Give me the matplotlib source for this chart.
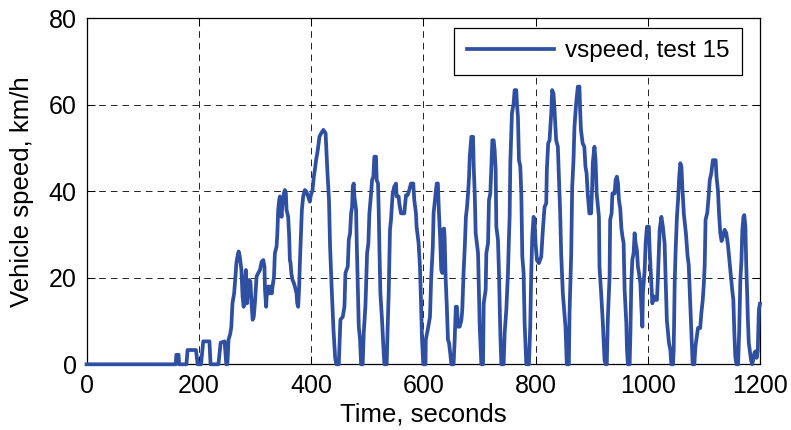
import matplotlib
matplotlib.use("Agg")
import matplotlib.pyplot as plt

# data (time in s, speed in km/h)
time_s = [
    0, 159, 160, 164, 165, 178, 180, 195, 198, 204, 208, 219, 221, 235, 239, 246, 249, 251,
    253, 256, 258, 260, 263, 265, 267, 269, 271, 273, 276, 278, 280, 282, 284, 286, 288, 290,
    292, 294, 296, 298, 300, 303, 306, 309, 312, 315, 317, 318, 320, 321, 324, 325.5, 328, 330,
    331.5, 334, 335.6, 338.6, 340, 341.5, 343.3, 344.5, 346, 347.5, 349.3, 351.6, 353.4, 355.2,
    356.4, 359.3, 361.1, 362.3, 363.5, 365, 367, 369.4, 371.2, 374.2, 375.4, 377.1, 378.9, 380.1,
    381.9, 383.7, 386, 389, 392, 394.9, 397.9, 399.7, 402.7, 405, 406.8, 409, 412, 415, 418, 422,
    426, 429, 432, 434, 437, 440, 443, 445, 449.5, 450.7, 452.4, 456.6, 459.6, 461.3, 465.5,
    467.3, 469.6, 471.4, 473.2, 474.4, 476.1, 477.3, 480.3, 481.5, 483.3, 485.1, 487.4, 489.2,
    492.1, 493.9, 496.9, 498.1, 499.9, 502.2, 504, 507, 508.8, 511.1, 512.9, 515.8, 517, 519.4,
    520.6, 521.8, 523.6, 526.5, 528.9, 530.7, 534.8, 536.6, 538.4, 540.7, 542.5, 545.5, 548.4,
    551.4, 552.6, 556.1, 557.3, 560.3, 566.2, 569.2, 572.1, 575.1, 578.1, 582.2, 584, 587, 588.1,
    591.7, 594.1, 595.9, 597.7, 600, 604, 604.5, 608, 612, 614, 617, 618.4, 622, 624, 626, 628,
    630, 632, 634, 635, 637, 638, 640, 642, 644, 646, 648, 650, 654, 656, 658, 660, 662, 665,
    668, 669.5, 672, 674, 676, 678, 679.8, 681.6, 682.8, 685.7, 688.7, 689.9, 691.7, 693.4,
    697.6, 700.6, 703.5, 706.5, 707.7, 711.2, 712.4, 715.4, 717.1, 719.5, 721.3, 723.1, 725.4,
    727.2, 729, 730.2, 733.1, 734.9, 737.3, 739.1, 743.2, 745, 748, 750.9, 752.7, 753.9, 755.1,
    758, 761, 762.8, 765.7, 766.9, 768.7, 770.5, 772.9, 774.7, 776.5, 778.8, 780.6, 783.6, 788.3,
    790.6, 792.4, 794.2, 796.6, 798.3, 800.1, 802.5, 806, 810.2, 813.1, 816.1, 819.1, 820.2,
    822.6, 825, 828, 829.7, 832.1, 833.9, 836.8, 839.8, 842.8, 844, 845.7, 848.7, 853.4, 855.8,
    859.4, 860.6, 863.5, 865.4, 867.7, 869.4, 872.4, 875.4, 878.3, 879.5, 881, 884, 887, 889,
    891, 893, 896, 899, 901, 902, 905, 907, 909, 913, 914, 917, 920, 923, 925, 927, 929, 932,
    933, 935.6, 937, 941, 942.7, 945, 947, 948.6, 951, 953, 955, 957, 958.8, 961.8, 963, 964.7,
    967.7, 969, 970.7, 972.5, 974.8, 976.6, 978.4, 980.7, 982.5, 984.3, 986.8, 988.6, 990.4,
    991.4, 994.5, 996.2, 998.6, 1002, 1003.4, 1006.4, 1008.2, 1010.5, 1014, 1016.4, 1018.2,
    1021.2, 1024.3, 1027, 1030, 1032, 1034, 1037.8, 1040.3, 1042, 1045, 1046.2, 1048, 1049.7,
    1052, 1054, 1055.7, 1058, 1060, 1062, 1064.5, 1068, 1071, 1073, 1075.5, 1077.5, 1080, 1083,
    1085, 1087.5, 1089.5, 1093.5, 1095.5, 1098, 1100, 1101.5, 1103, 1106, 1108, 1110.5, 1113.3,
    1116, 1121, 1122.5, 1125, 1127, 1129.3, 1131.5, 1134, 1137, 1140, 1143, 1146, 1148.5,
    1150.5, 1152.5, 1154.3, 1156, 1158, 1161, 1163, 1165, 1167, 1168.5, 1170.5, 1172, 1174,
    1175.5, 1177, 1178.5, 1180, 1182, 1184, 1186, 1188, 1190, 1192, 1194, 1196, 1198, 1200,
]
speed_kmh = [
    0, 0, 2.2, 2.2, 0, 0, 3.3, 3.3, 0, 0, 5.3, 5.3, 0, 0, 5.0, 5.3, 0, 0,
    5.7, 7.0, 8.7, 14.1, 16.4, 19.7, 23.4, 25.0, 26.1, 25.0, 21.8, 15.7, 13.3, 18.0, 21.8, 14.1, 18.0, 19.5,
    19.1, 14.1, 10.3, 11.0, 14.1, 20.3, 21.1, 21.8, 23.7, 24.1, 22.6, 17.2, 13.3, 15.7, 18.0, 16.4, 18.0, 16.4,
    18.0, 20.3, 25.7, 27.2, 30.3, 35.7, 38.0, 38.8, 36.0, 34.1, 37.2, 39.5, 40.3, 39.5,
    35.7, 34.1, 29.5, 24.1, 23.4, 21.0, 19.5, 18.8, 18.0, 16.4, 14.1, 13.3, 18.0, 23.4,
    29.5, 35.7, 38.8, 40.3, 39.9, 38.8, 37.6, 39.1, 40.3, 43.4, 44.9, 47.2, 49.5, 52.6, 53.4, 54.2,
    53.4, 45.0, 38.0, 27.0, 17.0, 8.0, 1.5, 0, 0, 4.1, 10.3, 11.0, 13.4, 21.1, 22.6,
    28.8, 30.3, 34.9, 36.4, 41.1, 41.8, 38.8, 35.7, 28.0, 18.0, 8.7, 5.7, 0,
    0, 7.2, 13.4, 18.0, 25.7, 28.0, 34.9, 39.5, 42.6, 43.4, 48.0, 48.0, 42.6, 41.8,
    35.7, 27.2, 16.4, 10.3, 4.1, 0, 0, 8.7, 16.4, 31.1, 33.4, 39.5, 41.1,
    41.8, 38.8, 38.8, 37.2, 34.9, 34.9, 39.1, 39.1, 40.3, 41.8, 41.8, 38.0, 34.9, 31.8,
    28.0, 22.6, 14.9, 6.0, 0, 0, 5.7, 8.0, 11.0, 19.5, 27.2, 34.9, 39.5, 41.8, 41.8, 34.9,
    29.5, 21.8, 21.1, 31.1, 31.4, 29.5, 19.5, 13.3, 5.7, 4.9, 2.6, 0, 0, 5.7, 13.3, 13.3, 8.7, 8.7,
    10.3, 12.6, 21.8, 27.2, 34.1, 36.4, 39.5, 43.4, 48.0, 52.6, 52.6, 45.7, 39.5, 30.3,
    25.7, 8.7, 0, 0, 14.1, 17.2, 25.7, 28.0, 38.0, 39.5, 45.7, 51.8, 51.8,
    49.5, 44.9, 31.8, 28.8, 21.1, 7.2, 0, 0, 7.2, 12.6, 21.1, 29.5, 34.1, 46.5,
    58.0, 60.3, 63.4, 63.4, 60.3, 57.2, 47.2, 45.7, 39.5, 24.9, 21.1, 9.5, 0, 0,
    8.7, 21.1, 29.5, 34.1, 33.4, 28.0, 24.1, 23.4, 24.9, 31.1, 36.4, 37.2, 44.9,
    51.1, 51.8, 58.0, 63.4, 62.6, 58.8, 51.8, 50.3, 39.5, 34.9, 25.7, 16.4, 8.7, 0,
    0, 11.8, 24.9, 41.1, 47.2, 54.9, 60.3, 64.2, 64.2, 58.8, 54.2, 51.1, 50.3, 45.7,
    44.2, 39.5, 34.9, 34.9, 41.1, 46.5, 50.3, 47.2, 39.5, 34.1, 22.6, 16.4, 9.5, 1.0, 0, 0, 11.0, 20.3,
    33.4, 34.9, 39.5, 39.5, 42.6, 43.4, 41.8, 38.0, 36.0, 31.5, 29.5, 28.0, 17.2, 9.5, 3.3, 0,
    0, 6.4, 18.8, 24.1, 25.7, 30.3, 28.0, 26.4, 22.6, 21.1, 18.8, 13.3, 8.7,
    16.4, 21.8, 28.0, 31.8, 31.8, 26.4, 18.8, 14.1, 15.7, 14.9, 14.9, 20.3,
    31.1, 34.1, 31.8, 28.0, 18.8, 10.3, 4.9, 3.3, 0, 0, 3.3, 18.8, 26.4,
    34.1, 38.0, 42.6, 46.5, 45.7, 40.0, 34.5, 30.3, 25.0, 23.0, 15.0, 8.0, 0, 0,
    4.1, 6.4, 8.4, 8.4, 11.8, 14.9, 18.8, 23.0, 33.4, 35.0, 38.0, 42.6, 44.2,
    47.2, 47.2, 43.4, 40.3, 34.9, 30.3, 28.5, 29.5, 31.1, 30.3, 27.5, 23.4, 20.0,
    17.2, 14.9, 7.2, 1.8, 0, 0, 8.0, 19.5, 24.1, 31.0, 34.1, 34.5, 31.8,
    23.0, 17.0, 10.0, 5.0, 3.0, 1.0, 0, 1.0, 2.6, 3.0, 1.5, 3.0, 12.6, 14.0,
]
x_ticks = [0, 200, 400, 600, 800, 1000, 1200]
y_ticks = [0, 20, 40, 60, 80]
series_label = "vspeed, test 15"

plt.rcParams['font.family'] = ['Liberation Sans', 'DejaVu Sans']

fig = plt.figure(figsize=(7.91, 4.30), dpi=100)
ax = fig.add_axes([0.1094, 0.1528, 0.8514, 0.8046])

ax.plot(time_s, speed_kmh, color='#2f50a2', linewidth=2.7, label=series_label,
        solid_joinstyle='round', clip_on=False, zorder=3)

ax.set_xlim(0, 1200)
ax.set_ylim(0, 80)
ax.set_xticks(x_ticks)
ax.set_yticks(y_ticks)

# matlab-ish look: dashed black grid, ticks inside on all sides
ax.grid(True, color='black', linestyle=(0, (8, 6)), linewidth=0.6)
ax.tick_params(direction='in', length=5.5, width=0.75, top=True, right=True,
               labelsize=18, pad=7, colors='black')
for sp in ax.spines.values():
    sp.set_linewidth(0.9)
    sp.set_color('black')

ax.set_xlabel("Time, seconds", fontsize=18.5, labelpad=3)
ax.set_ylabel("Vehicle speed, km/h", fontsize=18.5, labelpad=11)

leg = ax.legend(loc='upper right', bbox_to_anchor=(0.9377, 0.9342),
                bbox_transform=fig.transFigure, borderaxespad=0,
                fontsize=17.5, handlelength=3.6, handletextpad=0.45,
                borderpad=0.5, fancybox=False, framealpha=1)
leg.get_frame().set_edgecolor('black')
leg.get_frame().set_linewidth(0.9)

fig.savefig("out.png", dpi=100)
